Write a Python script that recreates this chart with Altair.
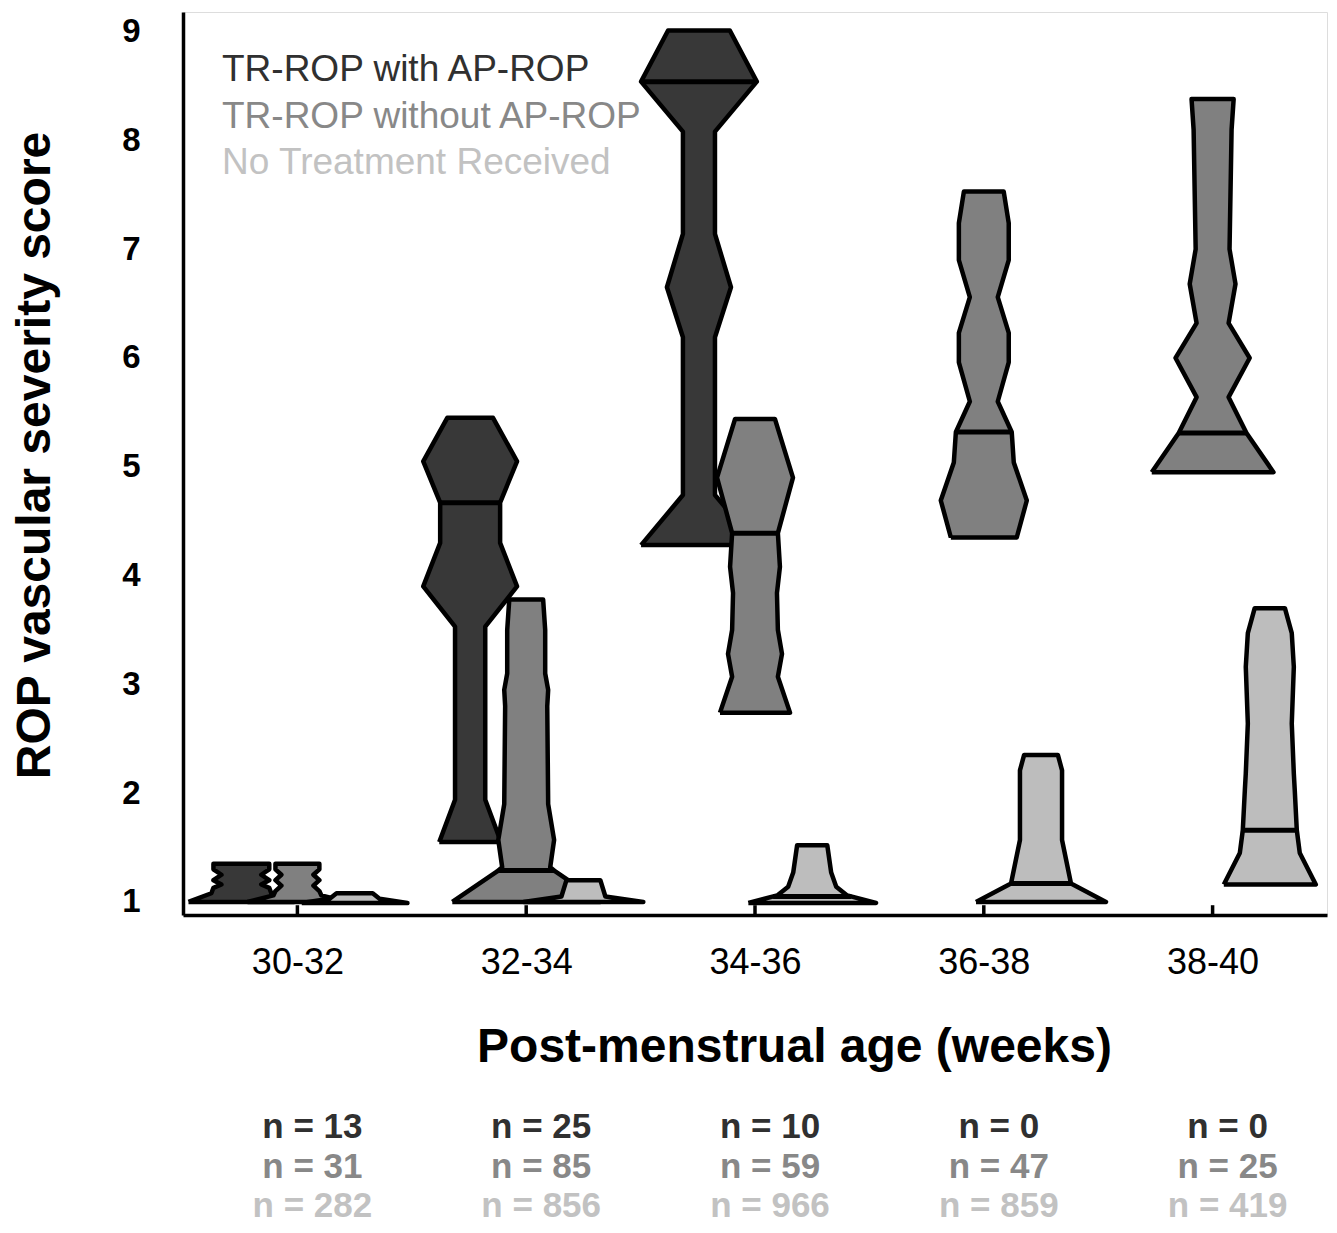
import json
import numpy as np
import pandas as pd
import altair as alt

FONT = "Liberation Sans, Arial, Helvetica, sans-serif"

# ---------------- data ----------------
groups = ["30-32", "32-34", "34-36", "36-38", "38-40"]
series_names = ["TR-ROP with AP-ROP", "TR-ROP without AP-ROP", "No Treatment Received"]

n_with_ap = [13, 25, 10, 0, 0]
n_without_ap = [31, 85, 59, 47, 25]
n_no_treatment = [282, 856, 966, 859, 419]

# violin profiles: score values and half-widths (density, in x-axis units)
with_ap_3032_score = [1.0, 1.08, 1.13, 1.16, 1.2, 1.25, 1.3, 1.35]
with_ap_3032_width = [0.231, 0.131, 0.122, 0.087, 0.122, 0.087, 0.122, 0.122]
with_ap_3234_score = [1.55, 1.94, 3.53, 3.9, 4.3, 4.67, 5.05, 5.45]
with_ap_3234_width = [0.135, 0.066, 0.066, 0.205, 0.131, 0.131, 0.205, 0.100]
with_ap_3436_score = [4.28, 4.74, 6.19, 6.65, 7.14, 8.08, 8.54, 9.01]
with_ap_3436_width = [0.253, 0.070, 0.070, 0.140, 0.070, 0.070, 0.253, 0.135]

without_ap_3032_score = [1.0, 1.06, 1.1, 1.15, 1.2, 1.25, 1.3, 1.35]
without_ap_3032_width = [0.218, 0.105, 0.096, 0.070, 0.096, 0.070, 0.096, 0.096]
without_ap_3234_score = [1.0, 1.28, 1.32, 1.57, 1.9, 2.8, 2.95, 3.1, 3.5, 3.78]
without_ap_3234_width = [0.323, 0.127, 0.105, 0.122, 0.096, 0.092, 0.096, 0.083, 0.083, 0.074]
without_ap_3436_score = [2.74, 3.07, 3.28, 3.5, 3.84, 4.08, 4.39, 4.9, 5.44]
without_ap_3436_width = [0.153, 0.100, 0.118, 0.100, 0.096, 0.109, 0.100, 0.166, 0.087]
without_ap_3638_score = [4.35, 4.69, 5.04, 5.32, 5.6, 5.96, 6.23, 6.56, 6.9, 7.24, 7.53]
without_ap_3638_width = [0.144, 0.188, 0.131, 0.122, 0.061, 0.109, 0.109, 0.061, 0.109, 0.109, 0.087]
without_ap_3840_score = [4.95, 5.31, 5.64, 6.0, 6.32, 6.68, 7.0, 8.1, 8.38]
without_ap_3840_width = [0.266, 0.148, 0.070, 0.162, 0.070, 0.100, 0.074, 0.083, 0.092]

no_treat_3032_score = [0.99, 1.03, 1.08]
no_treat_3032_width = [0.231, 0.109, 0.079]
no_treat_3234_score = [1.0, 1.05, 1.2]
no_treat_3234_width = [0.262, 0.096, 0.074]
no_treat_3436_score = [0.99, 1.06, 1.14, 1.27, 1.52]
no_treat_3436_width = [0.279, 0.153, 0.105, 0.083, 0.066]
no_treat_3638_score = [1.0, 1.17, 1.57, 2.21, 2.35]
no_treat_3638_width = [0.284, 0.131, 0.092, 0.092, 0.074]
no_treat_3840_score = [1.16, 1.45, 1.66, 2.03, 2.18, 2.64, 3.16, 3.47, 3.7]
no_treat_3840_width = [0.201, 0.131, 0.118, 0.109, 0.105, 0.096, 0.105, 0.096, 0.066]

# medians (None = not visible)
median_with_ap = [None, 4.67, 8.54, None, None]
median_without_ap = [None, 1.29, 4.39, 5.32, 5.31]
median_no_treatment = [None, None, 1.05, 1.17, 1.66]

profiles = {
    (0, 0): (with_ap_3032_score, with_ap_3032_width),
    (0, 1): (with_ap_3234_score, with_ap_3234_width),
    (0, 2): (with_ap_3436_score, with_ap_3436_width),
    (1, 0): (without_ap_3032_score, without_ap_3032_width),
    (1, 1): (without_ap_3234_score, without_ap_3234_width),
    (1, 2): (without_ap_3436_score, without_ap_3436_width),
    (1, 3): (without_ap_3638_score, without_ap_3638_width),
    (1, 4): (without_ap_3840_score, without_ap_3840_width),
    (2, 0): (no_treat_3032_score, no_treat_3032_width),
    (2, 1): (no_treat_3234_score, no_treat_3234_width),
    (2, 2): (no_treat_3436_score, no_treat_3436_width),
    (2, 3): (no_treat_3638_score, no_treat_3638_width),
    (2, 4): (no_treat_3840_score, no_treat_3840_width),
}
medians = [median_with_ap, median_without_ap, median_no_treatment]
n_rows = [n_with_ap, n_without_ap, n_no_treatment]

# ---------------- styling ----------------
offsets = [-0.245, 0.0, 0.25]
fills = ["#383838", "#808080", "#bdbdbd"]
text_colors = ["#303030", "#888888", "#c2c2c2"]

# each violin becomes a closed outline: up the left edge, down the right edge
rows = []
med_rows = []
for (si, gi), (sc, wd) in profiles.items():
    c = gi + offsets[si]
    k = 0
    for s, w in zip(sc, wd):
        rows.append({"series": si, "vid": f"{si}-{gi}", "k": k, "score": s, "x": c - w})
        k += 1
    for s, w in zip(reversed(sc), reversed(wd)):
        rows.append({"series": si, "vid": f"{si}-{gi}", "k": k, "score": s, "x": c + w})
        k += 1
    rows.append({"series": si, "vid": f"{si}-{gi}", "k": k, "score": sc[0], "x": c - wd[0]})
    m = medians[si][gi]
    if m is not None:
        mw = float(np.interp(m, sc, wd))
        med_rows.append({"series": si, "score": m, "lo": c - mw, "hi": c + mw})
df = pd.DataFrame(rows)
med_df = pd.DataFrame(med_rows)

xs = alt.Scale(domain=[-0.5, 4.5], nice=False, zero=False)
ys = alt.Scale(domain=[0.88, 9.18], nice=False, zero=False)

label_expr = json.dumps(groups) + "[round(datum.value)]"
x_axis = alt.Axis(
    values=[0, 1, 2, 3, 4], labelExpr=label_expr, title="Post-menstrual age (weeks)",
    titleFont=FONT, titleFontSize=48, titleFontWeight="bold", titleColor="black",
    titleX=611, titleY=108,
    labelFont=FONT, labelFontSize=36, labelColor="black", labelPadding=30, labelFlush=False,
    ticks=False, tickSize=0, grid=False, domainColor="black", domainWidth=3.5,
)
y_axis = alt.Axis(
    values=list(range(1, 10)), format="d", title="ROP vascular severity score",
    titleFont=FONT, titleFontSize=48, titleFontWeight="bold", titleColor="black",
    titleX=-124, titleY=443,
    labelFont=FONT, labelFontSize=33, labelFontWeight="bold", labelColor="black",
    labelPadding=43, ticks=False, tickSize=0, grid=False, domainColor="black", domainWidth=3.5,
)

layers = []
for si in range(3):
    d = df[df.series == si]
    layers.append(
        alt.Chart(d).mark_line(fill=fills[si], stroke="black", strokeWidth=4.5,
                               strokeJoin="round", fillOpacity=1)
        .encode(
            y=alt.Y("score:Q", scale=ys, axis=y_axis),
            x=alt.X("x:Q", scale=xs, axis=x_axis),
            detail="vid:N",
            order=alt.Order("k:Q"),
        )
    )
    md = med_df[med_df.series == si]
    if len(md):
        layers.append(
            alt.Chart(md).mark_rule(stroke="black", strokeWidth=5)
            .encode(
                y=alt.Y("score:Q", scale=ys, axis=y_axis),
                x=alt.X("lo:Q", scale=xs, axis=x_axis),
                x2="hi:Q",
            )
        )

# upward ticks on the x axis at group centres
tick_df = pd.DataFrame({"idx": list(range(len(groups))), "y0": 0.88, "y1": 0.97})
layers.append(
    alt.Chart(tick_df).mark_rule(stroke="black", strokeWidth=3.5)
    .encode(x=alt.X("idx:Q", scale=xs, axis=x_axis),
            y=alt.Y("y0:Q", scale=ys, axis=y_axis), y2="y1:Q")
)

# legend text (top-left)
legend_y = [58, 105, 151]
for si, name in enumerate(series_names):
    layers.append(
        alt.Chart(pd.DataFrame({"name": [name]})).mark_text(
            align="left", baseline="middle", font=FONT, fontSize=37, color=text_colors[si])
        .encode(x=alt.value(39), y=alt.value(legend_y[si]), text="name:N")
    )

# sample sizes below the axis
n_y = [1115, 1155, 1194]
for ri, vals in enumerate(n_rows):
    nd = pd.DataFrame({"idx": list(range(len(groups))), "label": [f"n = {v}" for v in vals]})
    layers.append(
        alt.Chart(nd).mark_text(align="center", baseline="middle", font=FONT, fontSize=35,
                                fontWeight="bold", color=text_colors[ri], dx=15)
        .encode(x=alt.X("idx:Q", scale=xs, axis=x_axis), y=alt.value(n_y[ri]), text="label:N")
    )

chart = alt.layer(*layers).properties(
    width=1144, height=903,
    autosize=alt.AutoSizeParams(type="none"),
    padding={"left": 175, "top": 4, "right": 2, "bottom": 310},
).configure_view(stroke=None).configure(background="white")

chart.save("out.html", embed_options={"renderer": "svg", "actions": False})
